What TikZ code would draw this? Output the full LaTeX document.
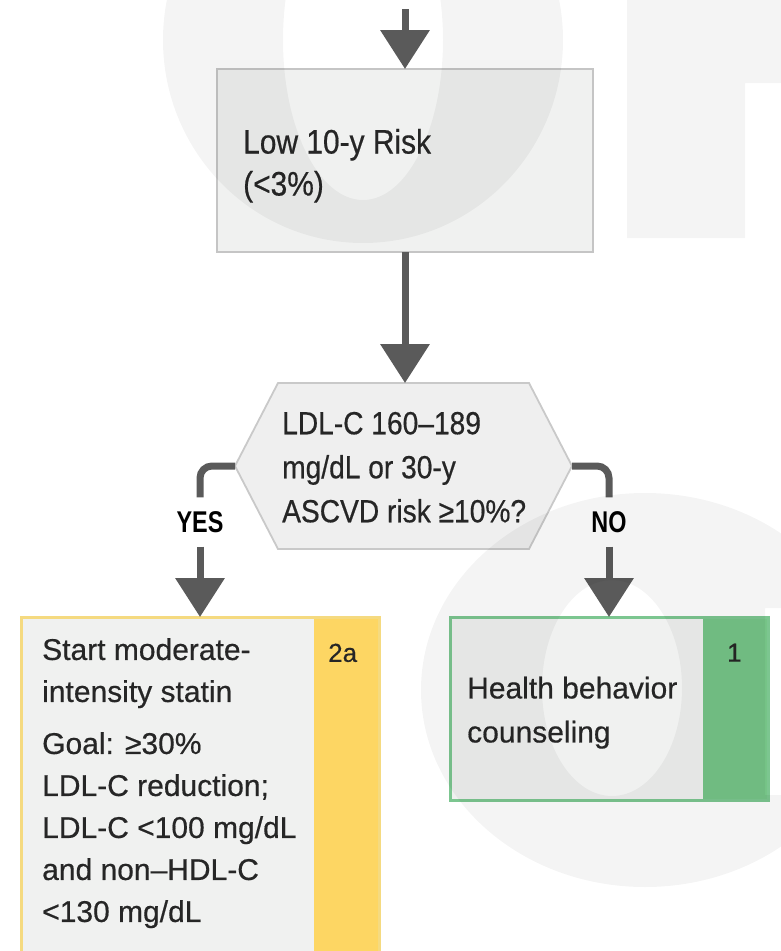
\documentclass[tikz,border=0pt]{standalone}
\usepackage{fontspec}
\setmainfont{Liberation Sans}[FakeBold=0.5]
\newfontfamily\narrowfont{Liberation Sans}[FakeStretch=0.88,FakeBold=0.5]
\newfontfamily\tagfont{Liberation Sans}[FakeStretch=0.78]
\usetikzlibrary{arrows.meta,calc}

\definecolor{arrowgray}{HTML}{5A5A5A}
\definecolor{boxfill}{HTML}{F0F1F0}
\definecolor{boxline}{HTML}{C5C5C5}
\definecolor{hexfill}{HTML}{EFEFEF}
\definecolor{hexline}{HTML}{C9C9C9}
\definecolor{statinyellow}{HTML}{FDD663}
\definecolor{statinline}{HTML}{F5DA80}
\definecolor{classgreen}{HTML}{76C487}
\definecolor{classline}{HTML}{7CC690}
\definecolor{ink}{HTML}{262626}

\begin{document}
\begin{tikzpicture}[x=1pt,y=-1pt,
  flow/.style={draw=arrowgray,line width=7pt,-{Triangle[width=48pt,length=39pt]}},
  elbow/.style={draw=arrowgray,line width=7pt,rounded corners=12pt},
  riskbox/.style={draw=boxline,fill=boxfill,line width=2pt,inner sep=0pt,outer sep=0pt,anchor=north west},
  classbox/.style 2 args={draw=#2,fill=boxfill,line width=3pt,inner sep=0pt,outer sep=0pt,anchor=north west,
    path picture={\fill[#1] ($(path picture bounding box.north east)+(-65,0)$) rectangle (path picture bounding box.south east);}},
  boxtext/.style={text=ink,align=left,anchor=north west,inner sep=0pt},
  gradetext/.style={text=ink,anchor=north west,inner sep=0pt,font=\fontsize{26}{26}\selectfont},
  answer/.style={text=black,inner xsep=2pt,inner ysep=14pt,outer sep=0pt,font=\tagfont\bfseries\fontsize{30}{30}\selectfont},
  watermark/.style={fill=black,fill opacity=0.045}
]
\useasboundingbox (0,0) rectangle (781,951);
\clip (0,0) rectangle (781,951);

% low-risk box
\node[riskbox,minimum width=376pt,minimum height=183pt] (lowrisk) at (217,69) {};
\node[boxtext,font=\narrowfont\fontsize{34}{42}\selectfont] (lowtext) at (243,128.7) {Low 10-y Risk\\(<3\%)};

% decision hexagon
\node[inner sep=0pt,outer sep=0pt,minimum width=337pt,minimum height=166pt] (ldl) at (403.5,466) {};
\draw[draw=hexline,fill=hexfill,line width=1.8pt]
  ($(ldl.north west)+(43,0)$) -- ($(ldl.north east)+(-43,0)$) -- (ldl.east)
  -- ($(ldl.south east)+(-43,0)$) -- ($(ldl.south west)+(43,0)$) -- (ldl.west) -- cycle;
\node[boxtext,font=\narrowfont\fontsize{32}{44}\selectfont] (ldltext) at (282,411.7)
  {LDL-C 160–189\\mg/dL or 30-y\\ASCVD risk ≥10\%?};

% outcome boxes
\node[classbox={statinyellow}{statinline},minimum width=358pt,minimum height=400pt] (statin) at (21,617) {};
\node[boxtext,font=\fontsize{30}{42}\selectfont] (statintext) at (42,638)
  {Start moderate-\\intensity statin\\[10pt]Goal: ≥30\%\\LDL-C reduction;\\LDL-C <100 mg/dL\\and non–HDL-C\\<130 mg/dL};
\node[gradetext] (statingrade) at (328,643.5) {2a};

\node[classbox={classgreen}{classline},minimum width=318pt,minimum height=183pt] (counsel) at (450,617) {};
\node[boxtext,font=\fontsize{30}{44}\selectfont] (counseltext) at (467,676.5)
  {Health behavior\\counseling};
\node[gradetext] (counselgrade) at (727,643.5) {1};

% answers
\node[answer] (yes) at (200,522) {YES};
\node[answer] (no) at (609,522) {NO};

% connectors
\coordinate (entry) at (405,9);
\draw[flow] (entry) -- (entry |- lowrisk.north);
\draw[flow] (lowrisk.south) -- (lowrisk.south |- ldl.north);
\draw[elbow] (ldl.west) -| (yes.north);
\draw[elbow] (ldl.east) -| (no.north);
\draw[flow] (yes.south) -- (yes.south |- statin.north);
\draw[flow] (no.south) -- (no.south |- counsel.north);

% faint background lettering
\fill[watermark,even odd rule] (363,40) ellipse [x radius=200, y radius=203]
  (363,40) ellipse [x radius=80, y radius=160];
\fill[watermark] (627,0) -- (800,0) -- (800,83) -- (745,83) -- (745,238) -- (627,238) -- cycle;
\fill[watermark,even odd rule] (645,690) ellipse [x radius=224, y radius=197]
  (612,688) ellipse [x radius=70, y radius=108]
  (765,608) rectangle (800,795);
\end{tikzpicture}
\end{document}
